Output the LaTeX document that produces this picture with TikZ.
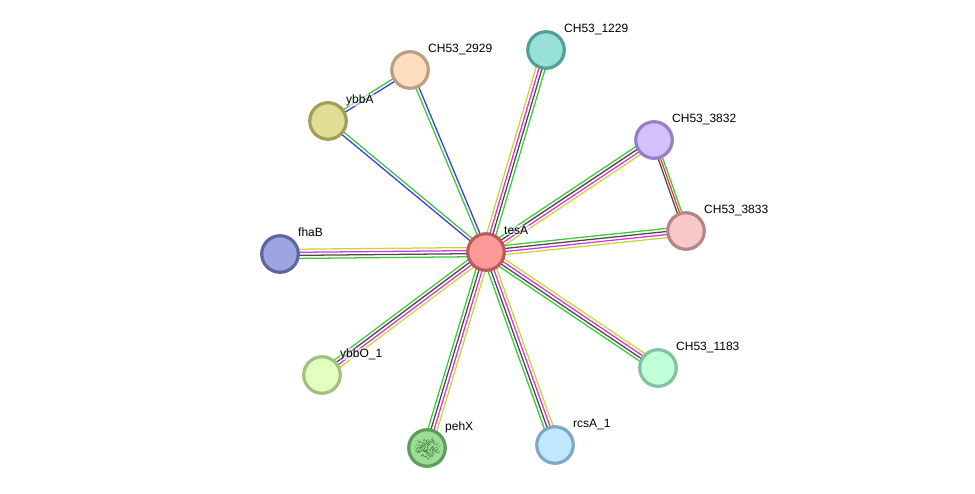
\documentclass[tikz,border=0pt]{standalone}
\usepackage{fontspec}
\setmainfont{Liberation Sans}
\usetikzlibrary{calc}
\pgfdeclarelayer{links}
\pgfsetlayers{links,main}
\definecolor{evYellow}{HTML}{C4D63A}
\definecolor{evMagenta}{HTML}{DC32DC}
\definecolor{evDark}{HTML}{4A4A4A}
\definecolor{evGreen}{HTML}{3CC83C}
\definecolor{evBlue}{HTML}{3A3AF0}
\definecolor{evRed}{HTML}{F03A3A}
% fill and rim of each protein bubble
\definecolor{tesAfill}{HTML}{FF9999}\definecolor{tesArim}{HTML}{B85C5C}
\definecolor{ybbAfill}{HTML}{DFDD96}\definecolor{ybbArim}{HTML}{A09E56}
\definecolor{aFill}{HTML}{FFDDBF}\definecolor{aRim}{HTML}{BC9F80}
\definecolor{bFill}{HTML}{97E1D8}\definecolor{bRim}{HTML}{52A096}
\definecolor{cFill}{HTML}{D4C2FF}\definecolor{cRim}{HTML}{9580C8}
\definecolor{dFill}{HTML}{F8C8C8}\definecolor{dRim}{HTML}{B58585}
\definecolor{eFill}{HTML}{C0FFD8}\definecolor{eRim}{HTML}{82C09F}
\definecolor{rcsAfill}{HTML}{C0E8FF}\definecolor{rcsArim}{HTML}{7FA8C5}
\definecolor{pehXfill}{HTML}{9BDD92}\definecolor{pehXrim}{HTML}{5C9E59}
\definecolor{ybbOfill}{HTML}{E2FFC0}\definecolor{ybbOrim}{HTML}{A3C07F}
\definecolor{fhaBfill}{HTML}{9DA5E0}\definecolor{fhaBrim}{HTML}{5F659F}
\definecolor{foldInk}{HTML}{3F6A3F}
\tikzset{
  x=0.75pt, y=-0.75pt,
  protein/.style 2 args={circle, draw=#2, fill=#1, line width=2.4pt,
    minimum size=27.4pt, inner sep=0pt},
  tag/.style={anchor=base west, font=\fontsize{9pt}{10pt}\selectfont, inner sep=0.4pt,
    fill=white, fill opacity=0.55, text opacity=1, text=black},
  evidence/.style={line width=0.95pt}
}
% one strand of an edge, displaced sideways from the line joining two nodes
\newcommand{\strand}[4]{%
  \draw[evidence, #4] ($(#1)!#3!90:(#2)$) -- ($(#2)!#3!-90:(#1)$);}
\newcommand{\fourstrands}[2]{%
  \strand{#1}{#2}{3.45pt}{evYellow}%
  \strand{#1}{#2}{1.15pt}{evMagenta}%
  \strand{#1}{#2}{-1.15pt}{evDark}%
  \strand{#1}{#2}{-3.45pt}{evGreen}}
\newcommand{\twostrands}[2]{%
  \strand{#1}{#2}{1.15pt}{evBlue}%
  \strand{#1}{#2}{-1.15pt}{evGreen}}
\begin{document}
\begin{tikzpicture}
\useasboundingbox (0,0) rectangle (975,493);

\node[protein={tesAfill}{tesArim}] (tesA) at (486,252) {};
\node[protein={ybbAfill}{ybbArim}] (ybbA) at (328,121) {};
\node[protein={aFill}{aRim}] (c2929) at (410,70) {};
\node[protein={bFill}{bRim}] (c1229) at (546,50) {};
\node[protein={cFill}{cRim}] (c3832) at (654,140) {};
\node[protein={dFill}{dRim}] (c3833) at (686,231) {};
\node[protein={eFill}{eRim}] (c1183) at (658,368) {};
\node[protein={rcsAfill}{rcsArim}] (rcsA) at (555,445) {};
\node[protein={pehXfill}{pehXrim}] (pehX) at (427,448) {};
\node[protein={ybbOfill}{ybbOrim}] (ybbO) at (322,375) {};
\node[protein={fhaBfill}{fhaBrim}] (fhaB) at (280,254) {};

% fine tangled fold drawn inside the pehX node
\pgfmathsetseed{4242}
\foreach \i in {1,...,130}{
  \pgfmathsetmacro{\ang}{rand*180}
  \pgfmathsetmacro{\rad}{sqrt(abs(rand))*10.5}
  \pgfmathsetmacro{\dx}{rand*3}
  \pgfmathsetmacro{\dy}{rand*3}
  \draw[line width=0.2pt, foldInk]
    ($(pehX)+(\ang:\rad*1.15 and \rad*0.9)$) -- ++(\dx,\dy);
}

\begin{pgfonlayer}{links}
  \fourstrands{tesA}{c1229}
  \fourstrands{c3832}{tesA}
  \fourstrands{c3833}{tesA}
  \fourstrands{tesA}{c1183}
  \fourstrands{tesA}{rcsA}
  \fourstrands{tesA}{pehX}
  \fourstrands{tesA}{ybbO}
  \fourstrands{fhaB}{tesA}
  \twostrands{tesA}{ybbA}
  \twostrands{c2929}{tesA}
  \twostrands{c2929}{ybbA}
  \strand{c3832}{c3833}{1.7pt}{evGreen}
  \strand{c3832}{c3833}{0pt}{evRed}
  \strand{c3832}{c3833}{-1.7pt}{evDark}
\end{pgfonlayer}

\node[tag] (ltesA) at (503.4,234) {tesA};
\node[tag] (lybbA) at (345.4,103) {ybbA};
\node[tag] (l2929) at (427.4,52) {CH53\_2929};
\node[tag] (l1229) at (563.4,32) {CH53\_1229};
\node[tag] (l3832) at (671.4,122) {CH53\_3832};
\node[tag] (l3833) at (703.4,213) {CH53\_3833};
\node[tag] (l1183) at (675.4,350) {CH53\_1183};
\node[tag] (lrcsA) at (572.4,427) {rcsA\_1};
\node[tag] (lpehX) at (444.4,430) {pehX};
\node[tag] (lybbO) at (339.4,357) {ybbO\_1};
\node[tag] (lfhaB) at (297.4,236) {fhaB};
\end{tikzpicture}
\end{document}
